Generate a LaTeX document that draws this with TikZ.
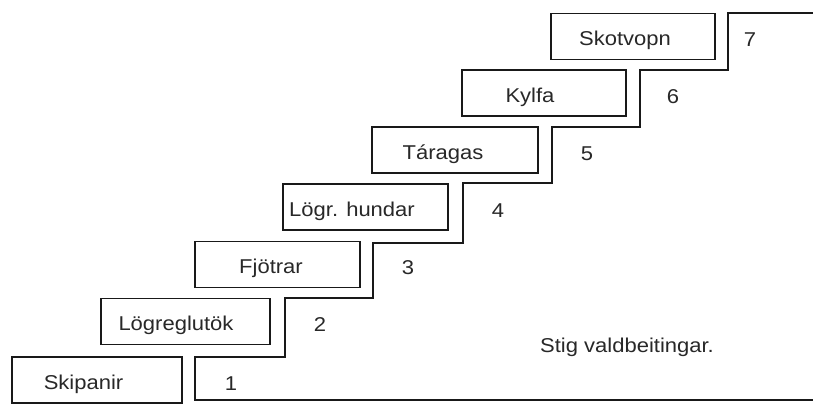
\documentclass[tikz,border=0pt]{standalone}
\usepackage{fontspec}
\setmainfont{Liberation Sans}[FakeStretch=1.1]
\usetikzlibrary{calc}
\definecolor{ink}{RGB}{25,25,25}
\definecolor{txt}{RGB}{40,40,40}
\begin{document}
\begin{tikzpicture}[x=1bp,y=-1bp,
  stepbox/.style={draw=ink, line width=1.9bp, minimum width=166bp, minimum height=46bp, inner sep=0pt},
  lbl/.style={anchor=base, text=txt, font=\fontsize{20bp}{22bp}\selectfont, inner sep=0pt},
  stair/.style={draw=ink, line width=1.9bp, line join=miter}]
\useasboundingbox (0,0) rectangle (813,419);
\fill[white] (0,0) rectangle (813,419);
% boxes
\node[stepbox, minimum width=170bp] (b1) at (97,380) {};
\node[stepbox, minimum width=169bp] (b2) at (185.5,321.5) {};
\node[stepbox, minimum width=165bp] (b3) at (277.5,264.5) {};
\node[stepbox, minimum width=165bp] (b4) at (365.5,207) {};
\node[stepbox] (b5) at (455,150) {};
\node[stepbox, minimum width=164bp] (b6) at (544,93) {};
\node[stepbox, minimum width=164bp] (b7) at (633,36.5) {};
% box texts
\node[lbl] (t1) at ($(b1.center)+(-13.5,9)$) {Skipanir};
\node[lbl] (t2) at ($(b2.center)+(-9.5,9)$) {Lögreglutök};
\node[lbl] (t3) at ($(b3.center)+(-6.5,9)$) {Fjötrar};
\node[lbl] (t4) at ($(b4.center)+(-13.5,9)$) {Lögr. hundar};
\node[lbl] (t5) at ($(b5.center)+(-12,9)$) {Táragas};
\node[lbl] (t6) at ($(b6.center)+(-14,9)$) {Kylfa};
\node[lbl] (t7) at ($(b7.center)+(-8,9)$) {Skotvopn};
% staircase
\draw[stair] (813,400) -- (195,400) -- (195,357) -- (285,357) -- (285,298)
  -- (373,298) -- (373,243) -- (463,243) -- (463,183) -- (552,183)
  -- (552,127) -- (640,127) -- (640,70) -- (728,70) -- (728,13) -- (813,13);
% step numbers
\node[lbl] (n1) at (231,390) {1};
\node[lbl] (n2) at (320,331.5) {2};
\node[lbl] (n3) at (408,274.5) {3};
\node[lbl] (n4) at (498,217) {4};
\node[lbl] (n5) at (587,160) {5};
\node[lbl] (n6) at (673,103) {6};
\node[lbl] (n7) at (750,46.5) {7};
% caption
\node[lbl, anchor=base west] (cap) at (540,352) {Stig valdbeitingar.};
\end{tikzpicture}
\end{document}
